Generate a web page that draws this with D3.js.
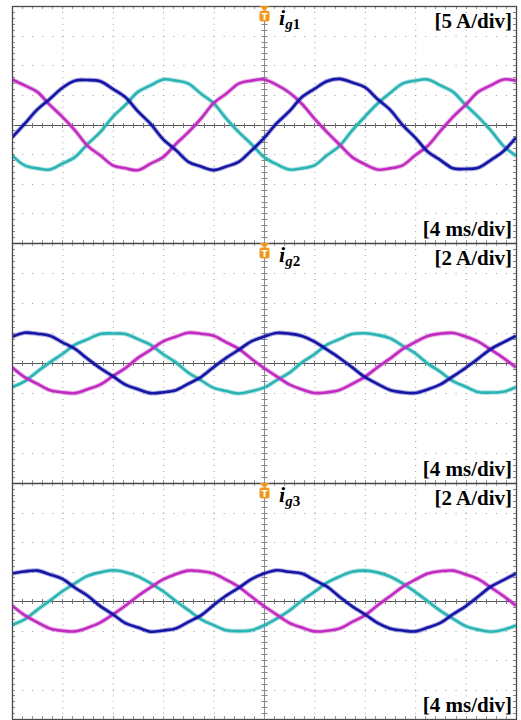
<!DOCTYPE html>
<html>
<head>
<meta charset="utf-8">
<script src="https://cdn.jsdelivr.net/npm/d3@7"></script>
<style>
  body { margin: 0; background: #fff; }
  svg { display: block; }
</style>
</head>
<body>
<svg width="521" height="720"></svg>
<script>
// sample instants, ms (trigger at 0, 4 ms/div, 10 div)
const times = [-20, -19, -18, -17, -16, -15, -14, -13, -12, -11, -10, -9, -8, -7, -6, -5, -4, -3, -2, -1,
    0, 1, 2, 3, 4, 5, 6, 7, 8, 9, 10, 11, 12, 13, 14, 15, 16, 17, 18, 19, 20];

// panel texts
const panelNames = ["g1", "g2", "g3"];
const ampLabels = ["[5 A/div]", "[2 A/div]", "[2 A/div]"];
const ampPerDiv = [5, 2, 2];
const timeLabel = "[4 ms/div]";

// currents, A
const ig1_m = [7.6, 6.6, 5.5, 3.3, 1.3, -1.0, -3.6, -5.2, -6.9, -7.4, -7.7, -6.6, -5.5, -3.3, -1.3, 1.0, 3.6, 5.2, 6.9, 7.4,
    7.6, 6.7, 5.4, 3.5, 1.0, -1.3, -3.4, -5.5, -6.7, -7.6, -7.4, -6.9, -5.2, -3.6, -1.1, 1.3, 3.3, 5.5, 6.6, 7.6, 7.4];
const ig1_b = [-2.2, 0.1, 2.5, 4.3, 6.2, 7.4, 7.5, 7.3, 6.0, 4.6, 2.2, 0.1, -2.5, -4.3, -6.3, -7.1, -7.7, -7.1, -6.3, -4.4,
    -2.3, 0.2, 2.2, 4.6, 6.0, 7.3, 7.7, 7.1, 6.3, 4.3, 2.5, -0.1, -2.2, -4.6, -6.0, -7.4, -7.5, -7.3, -6.0, -4.5, -2.2];
const ig1_c = [-5.2, -6.9, -7.4, -7.6, -6.6, -5.5, -3.3, -1.3, 1.3, 3.3, 5.5, 6.6, 7.6, 7.4, 6.9, 5.2, 3.6, 1.0, -1.3, -3.3,
    -5.5, -6.7, -7.6, -7.4, -6.9, -5.2, -3.6, -1.0, 1.3, 3.5, 5.3, 6.9, 7.4, 7.6, 6.6, 5.5, 3.3, 1.3, -1.0, -3.6, -5.3];

const ig2_m = [-0.28, -0.94, -1.38, -1.81, -1.95, -2.01, -1.75, -1.44, -0.88, -0.34, 0.34, 0.88, 1.44, 1.75, 2.02, 1.95, 1.81, 1.38, 0.94, 0.28,
    -0.33, -0.89, -1.43, -1.76, -2.0, -1.96, -1.8, -1.39, -0.93, -0.29, 0.29, 0.93, 1.39, 1.8, 1.96, 2.0, 1.76, 1.43, 0.89, 0.33, -0.29];
const ig2_b = [1.75, 2.02, 1.95, 1.82, 1.38, 0.94, 0.28, -0.34, -0.88, -1.44, -1.75, -2.01, -1.95, -1.81, -1.38, -0.94, -0.28, 0.34, 0.88, 1.44,
    1.76, 2.0, 1.96, 1.8, 1.43, 0.89, 0.33, -0.29, -0.93, -1.39, -1.8, -1.96, -2.0, -1.76, -1.43, -0.89, -0.33, 0.29, 0.93, 1.38, 1.8];
const ig2_c = [-1.6, -1.22, -0.58, 0.04, 0.6, 1.22, 1.58, 1.94, 1.97, 1.93, 1.59, 1.21, 0.58, 0.04, -0.65, -1.15, -1.66, -1.87, -2.03, -1.88,
    -1.64, -1.15, -0.66, 0.03, 0.58, 1.22, 1.59, 1.93, 1.98, 1.87, 1.65, 1.15, 0.65, -0.04, -0.59, -1.21, -1.58, -1.94, -1.97, -1.92, -1.6];

const ig3_m = [-0.3, -0.96, -1.44, -1.86, -2.02, -2.06, -1.82, -1.46, -0.92, -0.32, 0.34, 0.92, 1.46, 1.82, 2.06, 2.02, 1.86, 1.44, 0.96, 0.3,
    -0.34, -0.92, -1.48, -1.8, -2.06, -2.02, -1.86, -1.42, -0.98, -0.3, 0.32, 0.96, 1.44, 1.86, 2.02, 2.06, 1.8, 1.48, 0.92, 0.34, -0.32];
const ig3_b = [1.86, 2.0, 2.06, 1.8, 1.5, 0.9, 0.36, -0.35, -0.9, -1.5, -1.8, -2.08, -2.0, -1.86, -1.42, -0.97, -0.28, 0.36, 0.9, 1.48,
    1.86, 2.08, 1.98, 1.86, 1.42, 0.97, 0.28, -0.36, -0.9, -1.48, -1.86, -2.0, -2.06, -1.8, -1.48, -0.9, -0.36, 0.3, 0.97, 1.42, 1.86];
const ig3_c = [-1.62, -1.25, -0.6, 0.02, 0.66, 1.2, 1.7, 1.94, 2.08, 1.95, 1.66, 1.2, 0.66, 0.0, -0.62, -1.24, -1.64, -1.98, -2.04, -1.98,
    -1.66, -1.2, -0.66, 0.02, 0.62, 1.24, 1.66, 1.98, 2.06, 1.94, 1.66, 1.2, 0.62, -0.02, -0.66, -1.2, -1.7, -1.94, -2.08, -1.95, -1.66];

const panelSeries = [
    [ig1_c, ig1_m, ig1_b],
    [ig2_c, ig2_m, ig2_b],
    [ig3_c, ig3_m, ig3_b]
];
const traceColors = ["#2cb4b4", "#c02cc0", "#1616a6"];

const chart = () => {
    const svg = d3.select("svg");
    const left = 12, right = 516;
    const panelTops = [6, 243, 483];
    const panelBottoms = [243, 483, 719];
    const serif = "'Liberation Serif', 'Times New Roman', serif";

    const x = d3.scaleLinear().domain([-20, 20]).range([left, right]);
    const xMajor = d3.range(-20, 21, 4);
    const xMinor = d3.range(-20, 20.01, 0.8);

    panelSeries.forEach((series, p) => {
        const top = panelTops[p], bottom = panelBottoms[p];
        const apd = ampPerDiv[p];
        const y = d3.scaleLinear().domain([-4 * apd, 4 * apd]).range([bottom, top]);
        const yMajor = d3.range(-4 * apd, 4 * apd + 0.001, apd);
        const yMinor = d3.range(-4 * apd, 4 * apd + 0.001, apd / 5);
        const g = svg.append("g");

        // dotted graticule
        const vStep = (bottom - top) / 40;
        const hStep = (right - left) / 50;
        g.append("g").selectAll("line")
            .data(xMajor.filter(d => d !== 0 && Math.abs(d) !== 20))
            .join("line")
            .attr("x1", d => x(d) + 0.5).attr("x2", d => x(d) + 0.5)
            .attr("y1", top).attr("y2", bottom)
            .attr("stroke", "#999")
            .attr("stroke-dasharray", `1,${vStep - 1}`);
        g.append("g").selectAll("line")
            .data(yMajor.filter(d => d !== 0 && Math.abs(d) !== 4 * apd))
            .join("line")
            .attr("y1", d => Math.round(y(d)) + 0.5).attr("y2", d => Math.round(y(d)) + 0.5)
            .attr("x1", left).attr("x2", right)
            .attr("stroke", "#999")
            .attr("stroke-dasharray", `1,${hStep - 1}`);

        // centre cross with minor ticks
        const cx = x(0) + 0.5, cy = Math.round(y(0)) + 0.5;
        g.append("line").attr("x1", cx).attr("x2", cx).attr("y1", top).attr("y2", bottom)
            .attr("stroke", "#8a8a8a");
        g.append("line").attr("x1", left).attr("x2", right).attr("y1", cy).attr("y2", cy)
            .attr("stroke", "#555");
        g.append("g").selectAll("line").data(xMinor).join("line")
            .attr("x1", d => Math.round(x(d)) + 0.5).attr("x2", d => Math.round(x(d)) + 0.5)
            .attr("y1", cy - 2.5).attr("y2", cy + 2.5)
            .attr("stroke", "#777");
        g.append("g").selectAll("line").data(yMinor).join("line")
            .attr("y1", d => Math.round(y(d)) + 0.5).attr("y2", d => Math.round(y(d)) + 0.5)
            .attr("x1", cx - 3).attr("x2", cx + 3)
            .attr("stroke", "#888");

        // edge ticks
        g.append("g").selectAll("line").data(yMinor).join("line")
            .attr("y1", d => Math.round(y(d)) + 0.5).attr("y2", d => Math.round(y(d)) + 0.5)
            .attr("x1", left).attr("x2", left + 3)
            .attr("stroke", "#888");
        g.append("g").selectAll("line").data(yMinor).join("line")
            .attr("y1", d => Math.round(y(d)) + 0.5).attr("y2", d => Math.round(y(d)) + 0.5)
            .attr("x1", right - 3).attr("x2", right)
            .attr("stroke", "#888");
        g.append("g").selectAll("line").data(xMinor).join("line")
            .attr("x1", d => Math.round(x(d)) + 0.5).attr("x2", d => Math.round(x(d)) + 0.5)
            .attr("y1", top).attr("y2", top + 3)
            .attr("stroke", "#999");
        g.append("g").selectAll("line").data(xMinor).join("line")
            .attr("x1", d => Math.round(x(d)) + 0.5).attr("x2", d => Math.round(x(d)) + 0.5)
            .attr("y1", bottom - 3).attr("y2", bottom)
            .attr("stroke", "#999");

        // traces
        const clipId = "clip" + p;
        svg.append("clipPath").attr("id", clipId)
            .append("rect").attr("x", left).attr("y", top)
            .attr("width", right - left).attr("height", bottom - top);
        const line = d3.line()
            .x((d, i) => x(times[i]))
            .y(d => y(d))
            .curve(d3.curveCatmullRom);
        const tg = g.append("g").attr("clip-path", `url(#${clipId})`);
        series.forEach((s, k) => {
            tg.append("path").attr("d", line(s))
                .attr("fill", "none")
                .attr("stroke", traceColors[k])
                .attr("stroke-opacity", 0.35)
                .attr("stroke-width", 4.6);
            tg.append("path").attr("d", line(s))
                .attr("fill", "none")
                .attr("stroke", traceColors[k])
                .attr("stroke-width", 2.6)
                .attr("stroke-linejoin", "round");
        });

        // frame
        g.append("rect")
            .attr("x", left + 0.5).attr("y", top + 0.5)
            .attr("width", right - left).attr("height", bottom - top)
            .attr("fill", "none").attr("stroke", "#4a4a4a").attr("stroke-width", 1.3);

        // trigger marker
        const tx = x(0) + 0.5;
        g.append("path")
            .attr("d", `M${tx - 5},${top} L${tx + 5},${top} L${tx},${top + 5} Z`)
            .attr("fill", "#f0961a");
        g.append("rect")
            .attr("x", tx - 5).attr("y", top + 4.5)
            .attr("width", 10).attr("height", 11).attr("rx", 2.5)
            .attr("fill", "#f0961a");
        g.append("text")
            .attr("x", tx).attr("y", top + 13.5)
            .attr("text-anchor", "middle")
            .attr("fill", "#fff")
            .style("font", "bold 9px 'DejaVu Sans', sans-serif")
            .text("T");

        // labels
        const name = g.append("text")
            .attr("x", 279).attr("y", top + 19)
            .attr("fill", "#000")
            .style("font-family", serif)
            .style("font-weight", "bold");
        name.append("tspan").style("font-style", "italic").style("font-size", "22px").text("i");
        name.append("tspan").attr("dy", 4).style("font-style", "italic").style("font-size", "15px")
            .text(panelNames[p].slice(0, 1));
        name.append("tspan").style("font-size", "15px").text(panelNames[p].slice(1));

        g.append("text")
            .attr("x", 512).attr("y", top + 22)
            .attr("text-anchor", "end")
            .style("font", `bold 21px ${serif}`)
            .text(ampLabels[p]);
        g.append("text")
            .attr("x", 512).attr("y", bottom - 7)
            .attr("text-anchor", "end")
            .style("font", `bold 21px ${serif}`)
            .text(timeLabel);
    });
};

chart();
</script>
</body>
</html>
